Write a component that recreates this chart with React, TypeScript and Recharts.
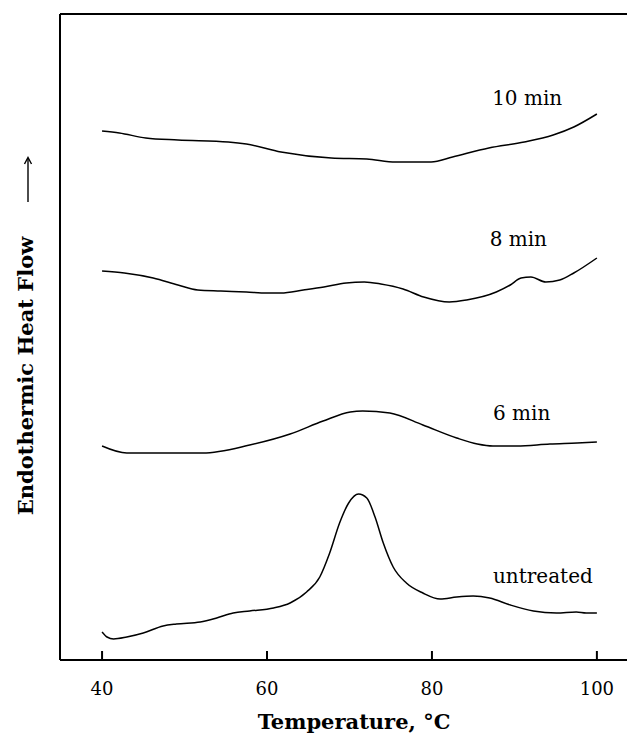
import { Label, Line, LineChart, ReferenceDot, ReferenceLine, XAxis, YAxis } from "recharts";

const tempTicks = [40, 60, 80, 100];

const untreatedTemp = [40.0, 40.6, 41.4, 43.0, 45.0, 47.4, 49.0, 51.9, 53.9, 55.9, 57.9, 60.8, 62.8, 64.8, 66.4, 67.6, 68.8, 69.9, 71.1, 72.1, 73.1, 74.1, 75.3, 76.9, 78.9, 81.0, 83.0, 85.0, 87.0, 89.5, 92.3, 95.1, 97.5, 98.7, 100];
const untreatedFlow = [2.8, 2.3, 2.1, 2.3, 2.7, 3.4, 3.6, 3.8, 4.2, 4.7, 4.9, 5.2, 5.7, 6.8, 8.3, 10.7, 13.7, 15.7, 16.6, 16.2, 14.3, 11.7, 9.3, 7.7, 6.7, 6.1, 6.3, 6.4, 6.2, 5.5, 4.9, 4.7, 4.8, 4.7, 4.7];

const min6Temp = [40.0, 43.0, 47.6, 52.2, 57.9, 62.8, 66.8, 70.1, 71.6, 74.9, 78.9, 83.0, 85.5, 87.4, 90.3, 94.3, 97.6, 100];
const min6Flow = [21.4, 20.7, 20.7, 20.7, 21.5, 22.6, 23.9, 24.8, 24.9, 24.7, 23.5, 22.2, 21.6, 21.4, 21.4, 21.6, 21.7, 21.8];

const min8Temp = [40, 42.7, 46.2, 49.2, 51.6, 54.4, 57.5, 60.0, 61.7, 64.4, 66.9, 69.6, 71.8, 73.8, 76.5, 79.0, 82.1, 84.2, 87.8, 89.5, 90.8, 92.0, 93.8, 95.5, 97.2, 100];
const min8Flow = [38.9, 38.7, 38.2, 37.5, 37.0, 36.9, 36.8, 36.7, 36.7, 37.0, 37.3, 37.7, 37.8, 37.6, 37.1, 36.3, 35.8, 36.0, 36.8, 37.5, 38.2, 38.3, 37.8, 38.0, 38.7, 40.2];

const min10Temp = [40, 42.1, 45.3, 49.2, 55.3, 57.5, 61.7, 67.8, 72.1, 75.6, 79.9, 82.5, 86.9, 91.2, 94.7, 97.2, 100];
const min10Flow = [52.9, 52.7, 52.2, 52.0, 51.8, 51.6, 50.8, 50.2, 50.1, 49.8, 49.8, 50.3, 51.2, 51.8, 52.5, 53.3, 54.6];

const seriesNames = ["untreated", "6 min", "8 min", "10 min"];

const toPoints = (temps: number[], flows: number[]) => temps.map((temp, i) => ({ temp, flow: flows[i] }));

const series = [
  toPoints(untreatedTemp, untreatedFlow),
  toPoints(min6Temp, min6Flow),
  toPoints(min8Temp, min8Flow),
  toPoints(min10Temp, min10Flow)
];

// where each curve's name sits (temperature, flow of the text baseline)
const tagAt = [
  { temp: 87.4, flow: 7.7 },
  { temp: 87.4, flow: 24.0 },
  { temp: 87.0, flow: 41.4 },
  { temp: 87.3, flow: 55.5 }
];

const FONT = "'DejaVu Serif', serif";

function TempTick({ x, y, payload }: any) {
  return (
    <g>
      <line x1={x} x2={x} y1={660} y2={651} stroke="#000" strokeWidth={2} />
      <text x={x} y={695} textAnchor="middle" fontFamily={FONT} fontSize={18} fill="#000">
        {payload.value}
      </text>
    </g>
  );
}

export default function App() {
  return (
    <div style={{ position: "fixed", left: 0, top: 0, width: 627, height: 740, overflow: "hidden", background: "#fff" }}>
      <LineChart width={640} height={740} margin={{ top: 14, right: 6, bottom: 0, left: 0 }}>
        <XAxis
          dataKey="temp"
          type="number"
          domain={[34.9, 104.5]}
          ticks={tempTicks}
          height={80}
          tickSize={0}
          tickMargin={0}
          tickLine={false}
          axisLine={{ stroke: "#000", strokeWidth: 2 }}
          tick={(p: any) => <TempTick {...p} />}
          allowDataOverflow
        >
          <Label
            content={() => (
              <text x={354} y={729} textAnchor="middle" fontFamily={FONT} fontSize={21} fontWeight="bold" fill="#000">
                Temperature, °C
              </text>
            )}
          />
        </XAxis>
        <YAxis
          type="number"
          domain={[0, 64.6]}
          width={60}
          tick={false}
          tickLine={false}
          axisLine={{ stroke: "#000", strokeWidth: 2 }}
          allowDataOverflow
        >
          <Label
            content={() => (
              <g>
                <text
                  x={33}
                  y={376}
                  transform="rotate(-90 33 376)"
                  textAnchor="middle"
                  fontFamily={FONT}
                  fontSize={21}
                  fontWeight="bold"
                  fill="#000"
                >
                  Endothermic Heat Flow
                </text>
                <line x1={28} x2={28} y1={202} y2={158} stroke="#000" strokeWidth={1.4} />
                <path d="M24.5 164 L28 157.5 L31.5 164" fill="none" stroke="#000" strokeWidth={1.4} />
              </g>
            )}
          />
        </YAxis>
        <ReferenceLine y={64.6} stroke="#000" strokeWidth={2} />
        {series.map((data, i) => (
          <Line
            key={seriesNames[i]}
            data={data}
            dataKey="flow"
            type="monotone"
            stroke="#000"
            strokeWidth={1.5}
            dot={false}
            isAnimationActive={false}
          />
        ))}
        {tagAt.map((p, i) => (
          <ReferenceDot
            key={seriesNames[i]}
            x={p.temp}
            y={p.flow}
            r={0}
            fill="none"
            stroke="none"
            label={{
              content: ({ viewBox }: any) => (
                <text x={viewBox.x} y={viewBox.y} textAnchor="start" fontFamily={FONT} fontSize={20} fill="#000">
                  {seriesNames[i]}
                </text>
              )
            }}
          />
        ))}
      </LineChart>
    </div>
  );
}
